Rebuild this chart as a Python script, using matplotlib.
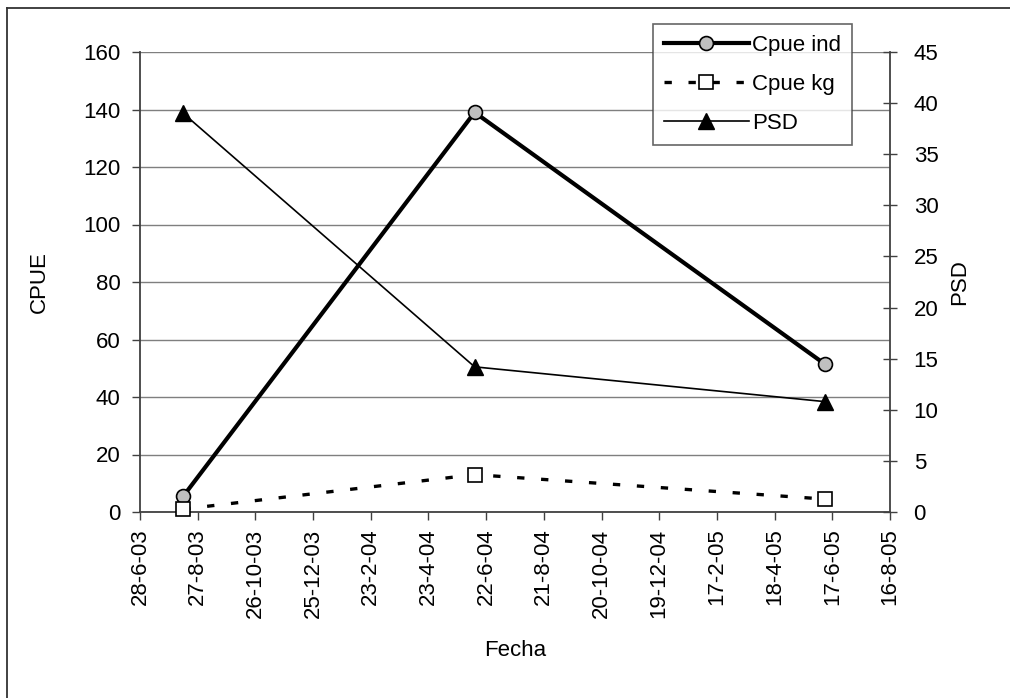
import datetime as dt
import matplotlib
matplotlib.use("Agg")
import matplotlib.pyplot as plt
import matplotlib.dates as mdates
from matplotlib.lines import Line2D

plt.rcParams['font.family'] = ['Liberation Sans', 'DejaVu Sans']

# sampling dates and series
fechas = [dt.date(2003, 8, 12), dt.date(2004, 6, 10), dt.date(2005, 6, 9)]
cpue_ind = [5.5, 139, 51.5]
cpue_kg = [1, 13, 4.5]
psd = [39, 14.2, 10.8]

# x ticks every 60 days
tick_start = dt.date(2003, 6, 28)
tick_dates = [tick_start + dt.timedelta(days=60 * i) for i in range(14)]
tick_labels = [f"{d.day}-{d.month}-{d.strftime('%y')}" for d in tick_dates]

fig = plt.figure(figsize=(10.1, 6.98), dpi=100)

# outer frame (only top and left edges fall inside the figure)
fig.add_artist(Line2D([7/1010, 1], [1 - 8/698, 1 - 8/698], transform=fig.transFigure,
                      color='#333333', lw=1.3))
fig.add_artist(Line2D([7/1010, 7/1010], [0, 1 - 8/698], transform=fig.transFigure,
                      color='#333333', lw=1.3))

ax1 = fig.add_axes([140/1010, 1 - 512/698, 750/1010, 460/698])
ax2 = ax1.twinx()

fs = 16
grid_col = '#7f7f7f'
axis_col = '#404040'

ax1.set_ylim(0, 160)
ax1.set_yticks(range(0, 161, 20))
ax1.set_xlim(mdates.date2num(tick_dates[0]), mdates.date2num(tick_dates[-1]))
ax1.set_xticks(mdates.date2num(tick_dates))
ax1.set_xticklabels(tick_labels, rotation=90)
ax1.yaxis.grid(True, color=grid_col, lw=1)
ax1.set_axisbelow(True)

ax2.set_ylim(0, 45)
ax2.set_yticks(range(0, 46, 5))

for a in (ax1, ax2):
    a.spines['top'].set_visible(False)
    for s in ('left', 'right', 'bottom'):
        a.spines[s].set_color(axis_col)
        a.spines[s].set_linewidth(1.3)
    a.tick_params(labelsize=fs, colors=axis_col, labelcolor='black', width=1)
ax1.spines['right'].set_visible(False)
ax2.spines['left'].set_visible(False)
ax2.spines['bottom'].set_visible(False)
ax1.tick_params(axis='y', direction='out', length=6, pad=8)
ax1.tick_params(axis='x', direction='out', length=6, pad=6)
ax2.tick_params(axis='y', direction='inout', length=10, pad=12)

ax1.set_ylabel('CPUE', fontsize=fs, labelpad=24)
ax1.set_xlabel('Fecha', fontsize=fs, labelpad=16)
ax2.set_ylabel('PSD', fontsize=fs, labelpad=8)

x = mdates.date2num(fechas)
l1, = ax1.plot(x, cpue_ind, color='black', lw=3, marker='o', ms=10,
               mfc='#c0c0c0', mec='black', mew=1.2, label='Cpue ind', zorder=4)
l2, = ax1.plot(x, cpue_kg, color='black', lw=2.4, ls=(0, (2.2, 5.0)), marker='s', ms=10,
               mfc='white', mec='black', mew=1.2, label='Cpue kg', zorder=4)
l3, = ax2.plot(x, psd, color='black', lw=1.2, marker='^', ms=12,
               mfc='black', mec='black', label='PSD', zorder=4)
for a in (ax1, ax2):
    for ln in a.lines:
        ln.set_clip_on(False)

leg = fig.legend([l1, l2, l3], ['Cpue ind', 'Cpue kg', 'PSD'],
                 loc='upper left', bbox_to_anchor=(653/1010, 1 - 24/698),
                 fontsize=fs, frameon=True, fancybox=False, handlelength=3.8,
                 handletextpad=0.15, borderpad=0.5, labelspacing=0.8,
                 borderaxespad=0)
leg.get_frame().set_edgecolor(axis_col)
leg.get_frame().set_linewidth(1.2)

fig.savefig('out.png', dpi=100)
